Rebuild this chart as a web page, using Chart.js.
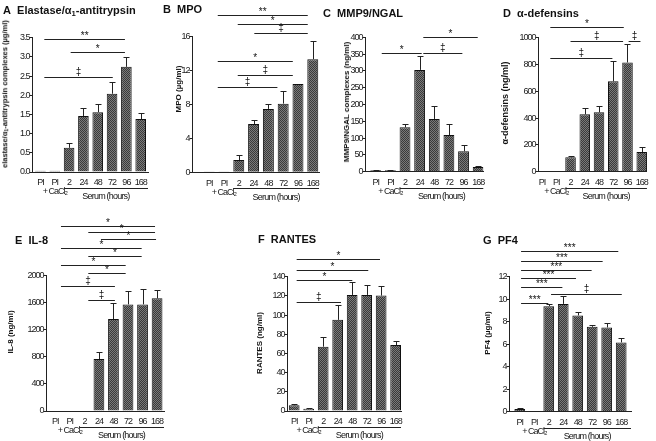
<!DOCTYPE html>
<html>
<head>
<meta charset="utf-8">
<script src="https://cdn.jsdelivr.net/npm/chart.js@4.4.1/dist/chart.umd.min.js"></script>
<style>
  html, body { margin: 0; background: #fff; }
  #fig { position: relative; width: 656px; height: 441px; overflow: hidden; }
  #fig canvas { position: absolute; }
  .ttl { position: absolute; font: bold 11px "Liberation Sans", Arial, sans-serif; color: #111; white-space: nowrap; line-height: 1; }
  .ytl { position: absolute; font-weight: bold; font-family: "Liberation Sans", Arial, sans-serif; color: #111;
         white-space: nowrap; line-height: 1; transform: translate(-50%, -50%) rotate(-90deg); }
  sub { font-size: 70%; vertical-align: -0.25em; line-height: 0; }
</style>
</head>
<body>
<div id="fig"></div>
<script>
/* =====================================================================
   DATA
===================================================================== */
const categories = ["PI", ["PI", "+ CaCl₂"], "2", "24", "48", "72", "96", "168"];
const groupLabel = "Serum (hours)";

// A  elastase/a1-antitrypsin complexes (µg/ml)
const elastaseMean = [0.03, 0.03, 0.63, 1.46, 1.56, 2.04, 2.74, 1.38];
const elastaseSem = [0, 0, 0.13, 0.20, 0.20, 0.31, 0.26, 0.16];
const elastaseTicks = [0, 0.5, 1, 1.5, 2, 2.5, 3, 3.5];
// [from category, to category, height, mark]
const elastaseSig = [[0.27, 5.9, 3.46, "**"], [2.11, 5.9, 3.12, "*"], [0.27, 5.05, 2.47, "‡"]];

// B  MPO (µg/ml)
const mpoMean = [0.05, 0.05, 1.45, 5.7, 7.48, 8.1, 10.43, 13.35];
const mpoSem = [0, 0, 0.55, 0.48, 0.63, 1.5, 0, 2.13];
const mpoTicks = [0, 4, 8, 12, 16];
const mpoSig = [[0.58, 6.66, 18.6, "**"], [1.93, 6.66, 17.45, "*"], [3.05, 6.66, 16.38, "‡"],
                [0.58, 5.65, 13.16, "*"], [1.93, 5.65, 11.47, "‡"], [0.58, 4.61, 10.05, "‡"]];

// C  MMP9/NGAL complexes (ng/ml)
const mmp9Mean = [4, 4, 132, 303, 157, 109, 61, 14];
const mmp9Sem = [1, 1, 11, 40, 40, 34, 18, 4];
const mmp9Ticks = [0, 50, 100, 150, 200, 250, 300, 350, 400];
const mmp9Sig = [[3.25, 6.97, 400, "*"], [0.41, 3.14, 354, "*"], [3.25, 5.92, 354, "‡"]];

// D  alpha-defensins (ng/ml)
const defensinMean = [0, 0, 107, 428, 443, 675, 815, 147];
const defensinSem = [0, 0, 10, 45, 45, 153, 135, 40];
const defensinTicks = [0, 200, 400, 600, 800, 1000];
const defensinSig = [[0.58, 5.74, 1082, "*"], [2.0, 5.69, 978, "‡"], [6.08, 6.91, 978, "‡"], [0.58, 4.94, 851, "‡"]];

// E  IL-8 (ng/ml)
const il8Mean = [0, 0, 0, 768, 1359, 1576, 1576, 1665];
const il8Sem = [0, 0, 0, 108, 236, 205, 230, 120];
const il8Ticks = [0, 400, 800, 1200, 1600, 2000];
const il8Sig = [[0.39, 6.86, 2737, "*"], [2.27, 6.86, 2648, "*"], [3.14, 6.93, 2536, "*"],
                [0.39, 5.94, 2403, "*"], [2.27, 5.94, 2285, "*"], [0.39, 4.84, 2157, "*"],
                [2.27, 4.84, 2043, "*"], [0.39, 4.1, 1846, "‡"], [2.27, 4.1, 1640, "‡"]];

// F  RANTES (ng/ml)
const rantesMean = [5.9, 2.4, 67, 95, 121, 121, 120.3, 68.8];
const rantesSem = [1.2, 0.5, 10, 15, 13, 10.5, 10, 4.5];
const rantesTicks = [0, 20, 40, 60, 80, 100, 120, 140];
const rantesSig = [[0.17, 5.92, 158.5, "*"], [0.17, 5.11, 147, "*"], [0.17, 4.01, 136.6, "*"], [0.17, 3.23, 113.3, "‡"]];

// G  PF4 (µg/ml)
const pf4Mean = [0.22, 0.03, 9.38, 9.58, 8.55, 7.54, 7.48, 6.15];
const pf4Sem = [0.05, 0, 0.15, 0.7, 0.3, 0.2, 0.4, 0.38];
const pf4Ticks = [0, 2, 4, 6, 8, 10, 12];
const pf4Sig = [[0.09, 6.8, 14.29, "***"], [0.09, 5.72, 13.4, "***"], [0.09, 4.96, 12.58, "***"],
                [0.09, 3.88, 11.9, "***"], [0.09, 2.94, 11.1, "***"], [2.16, 7.04, 10.5, "‡"],
                [0.09, 1.97, 9.7, "***"]];

/* =====================================================================
   PANEL LAYOUT (pixel boxes on the page)
===================================================================== */
const panels = [
  { mean: elastaseMean, sem: elastaseSem, ticks: elastaseTicks, sig: elastaseSig, fmt: v => v.toFixed(1),
    title: "A&nbsp;&nbsp;Elastase/α<sub>1</sub>-antitrypsin", yTitle: "elastase/α<sub>1</sub>-antitrypsin complexes (µg/ml)",
    box: [0, 0, 160, 210], area: [32, 37.7, 148, 172], xRange: [-0.59, 7.51], titleAt: [3, 10], yTitleAt: [5, 93.5, 7.5] },
  { mean: mpoMean, sem: mpoSem, ticks: mpoTicks, sig: mpoSig, fmt: v => v,
    title: "B&nbsp;&nbsp;MPO", yTitle: "MPO (µg/ml)",
    box: [160, 0, 170, 210], area: [192, 36.7, 319, 172.3], xRange: [-1.16, 7.42], titleAt: [163, 9], yTitleAt: [179, 89, 8] },
  { mean: mmp9Mean, sem: mmp9Sem, ticks: mmp9Ticks, sig: mmp9Sig, fmt: v => v,
    title: "C&nbsp;&nbsp;MMP9/NGAL", yTitle: "MMP9/NGAL complexes (ng/ml)",
    box: [320, 0, 175, 210], area: [365, 37.3, 483.3, 171.7], xRange: [-0.735, 7.351], titleAt: [323, 13], yTitleAt: [346.5, 101.7, 8] },
  { mean: defensinMean, sem: defensinSem, ticks: defensinTicks, sig: defensinSig, fmt: v => v,
    title: "D&nbsp;&nbsp;α-defensins", yTitle: "α-defensins (ng/ml)",
    box: [495, 0, 161, 210], area: [538, 37.7, 650.7, 171.7], xRange: [-0.285, 7.366], titleAt: [503, 13], yTitleAt: [505, 102.5, 9] },
  { mean: il8Mean, sem: il8Sem, ticks: il8Ticks, sig: il8Sig, fmt: v => v,
    title: "E&nbsp;&nbsp;IL-8", yTitle: "IL-8 (ng/ml)",
    box: [0, 215, 180, 226], area: [46, 275.7, 164, 411], xRange: [-0.64, 7.476], titleAt: [15, 240], yTitleAt: [11, 332, 8] },
  { mean: rantesMean, sem: rantesSem, ticks: rantesTicks, sig: rantesSig, fmt: v => v,
    title: "F&nbsp;&nbsp;RANTES", yTitle: "RANTES (ng/ml)",
    box: [220, 215, 195, 226], area: [287, 276.7, 401, 411], xRange: [-0.497, 7.37], titleAt: [258, 239.5], yTitleAt: [260, 343, 8] },
  { mean: pf4Mean, sem: pf4Sem, ticks: pf4Ticks, sig: pf4Sig, fmt: v => v,
    title: "G&nbsp;&nbsp;PF4", yTitle: "PF4 (µg/ml)",
    box: [440, 215, 216, 226], area: [509, 276.7, 631, 411.5], xRange: [-0.743, 7.677], titleAt: [483, 240.5], yTitleAt: [488, 333, 8] },
];

/* ---------------------------------------------------------------------
   FONTS: axis text in the figure is narrow, tighten Arial a little
--------------------------------------------------------------------- */
const tickFont = { family: '"Liberation Sans", Arial, sans-serif', size: 9, lineHeight: 1 };
const tickSpacing = "-1px";

/* ---------------------------------------------------------------------
   BAR FILL: fine dark crosshatch
--------------------------------------------------------------------- */
function hatch() {
  const c = document.createElement("canvas");
  c.width = 2; c.height = 2;
  const x = c.getContext("2d");
  x.fillStyle = "#7a7a7a"; x.fillRect(0, 0, 2, 2);
  x.fillStyle = "#3a3a3a"; x.fillRect(0, 0, 1, 1); x.fillRect(1, 1, 1, 1);
  return x.createPattern(c, "repeat");
}
const barFill = hatch();

/* ---------------------------------------------------------------------
   PLUGIN: error bars, significance brackets, "Serum (hours)" bracket
--------------------------------------------------------------------- */
const panelExtras = {
  id: "panelExtras",
  beforeDraw(chart) {
    chart.ctx.letterSpacing = tickSpacing;
  },
  afterDraw(chart, args, opts) {
    const { ctx, chartArea: area, scales: { x, y } } = chart;
    const bars = chart.getDatasetMeta(0).data;
    const pts = chart.data.datasets[0].data;
    ctx.save();
    ctx.strokeStyle = "#222";
    ctx.lineWidth = 1;

    // upper error whiskers
    bars.forEach((bar, i) => {
      const e = opts.sem[i];
      if (!e) return;
      const cx = Math.round(bar.x) + 0.5;
      const top = Math.round(y.getPixelForValue(pts[i].y + e)) + 0.5;
      ctx.beginPath();
      ctx.moveTo(cx, bar.y);
      ctx.lineTo(cx, top);
      ctx.moveTo(cx - 3, top);
      ctx.lineTo(cx + 3, top);
      ctx.stroke();
    });

    // significance lines with their marks
    ctx.fillStyle = "#111";
    ctx.textAlign = "center";
    ctx.textBaseline = "alphabetic";
    ctx.letterSpacing = "0px";
    ctx.font = '10px "Liberation Sans", Arial, sans-serif';
    opts.sig.forEach(([from, to, v, mark]) => {
      const x1 = x.getPixelForValue(from), x2 = x.getPixelForValue(to);
      const ly = Math.round(y.getPixelForValue(v)) + 0.5;
      ctx.beginPath();
      ctx.moveTo(x1, ly);
      ctx.lineTo(x2, ly);
      ctx.stroke();
      ctx.fillText(mark, (x1 + x2) / 2, ly - (mark === "‡" ? 3 : 0.5));
    });

    // serum time points group
    const gx1 = bars[2].x - bars[2].width / 2;
    const gy = Math.round(area.bottom + 16) + 0.5;
    ctx.beginPath();
    ctx.moveTo(gx1, gy);
    ctx.lineTo(area.right, gy);
    ctx.stroke();
    ctx.font = `9px ${tickFont.family}`;
    ctx.letterSpacing = "-0.8px";
    ctx.textBaseline = "middle";
    ctx.fillText(groupLabel, (gx1 + area.right) / 2, area.bottom + 25);
    ctx.restore();
  }
};

/* ---------------------------------------------------------------------
   BUILD ONE PANEL
--------------------------------------------------------------------- */
const fig = document.querySelector("#fig");

function buildPanel(p) {
  const [L, T, W, H] = p.box;
  const [ax, ay, ar, ab] = p.area;

  const cv = document.createElement("canvas");
  cv.width = W;
  cv.height = H;
  cv.style.left = L + "px";
  cv.style.top = T + "px";
  fig.appendChild(cv);

  new Chart(cv, {
    type: "bar",
    data: {
      datasets: [{
        data: p.mean.map((v, i) => ({ x: i, y: v })),
        backgroundColor: barFill,
        borderColor: "#111",
        borderWidth: 1,
        barPercentage: 0.74,
        categoryPercentage: 1
      }]
    },
    options: {
      responsive: false,
      animation: false,
      devicePixelRatio: 1,
      layout: { padding: { left: 0, top: ay - T, right: L + W - ar, bottom: 0 } },
      plugins: {
        legend: { display: false },
        tooltip: { enabled: false },
        panelExtras: { sem: p.sem, sig: p.sig }
      },
      scales: {
        x: {
          type: "linear",
          offset: false,
          min: p.xRange[0],
          max: p.xRange[1],
          afterBuildTicks: s => { s.ticks = categories.map((c, i) => ({ value: i })); },
          afterFit: s => { s.height = T + H - ab; },
          grid: { display: false, drawTicks: false },
          border: { color: "#222", width: 1 },
          ticks: { callback: v => categories[v], font: tickFont, color: "#1a1a1a", padding: 6.5,
                   maxRotation: 0, minRotation: 0, autoSkip: false }
        },
        y: {
          min: p.ticks[0],
          max: p.ticks[p.ticks.length - 1],
          afterBuildTicks: s => { s.ticks = p.ticks.map(v => ({ value: v })); },
          afterFit: s => { s.width = ax - L; },
          grid: { drawOnChartArea: false, drawTicks: true, tickLength: 2.5, color: "#222" },
          border: { color: "#222", width: 1 },
          ticks: { callback: p.fmt, font: tickFont, color: "#1a1a1a", padding: 0 }
        }
      }
    },
    plugins: [panelExtras]
  });

  // panel title and y-axis title as html text
  const t = document.createElement("div");
  t.className = "ttl";
  t.innerHTML = p.title;
  t.style.left = p.titleAt[0] + "px";
  t.style.top = (p.titleAt[1] - 5.5) + "px";
  fig.appendChild(t);

  const yt = document.createElement("div");
  yt.className = "ytl";
  yt.innerHTML = p.yTitle;
  yt.style.left = p.yTitleAt[0] + "px";
  yt.style.top = p.yTitleAt[1] + "px";
  yt.style.fontSize = p.yTitleAt[2] + "px";
  fig.appendChild(yt);
}

panels.forEach(buildPanel);
</script>
</body>
</html>
